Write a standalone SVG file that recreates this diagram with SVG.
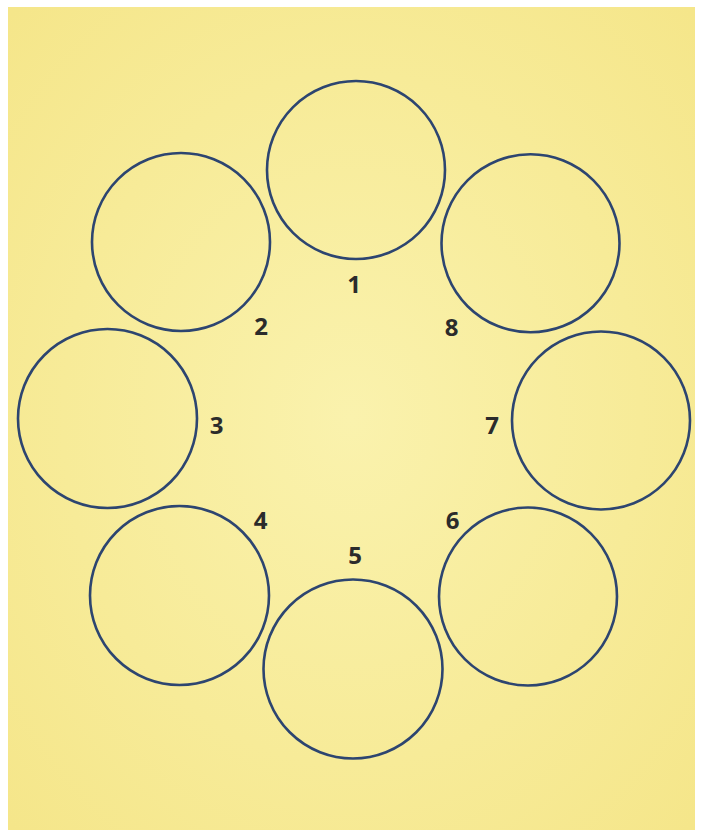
<svg xmlns="http://www.w3.org/2000/svg" width="703" height="830" viewBox="0 0 703 830">
  <defs>
    <radialGradient id="bg" cx="0.5" cy="0.5" r="0.7">
      <stop offset="0" stop-color="#faf2ad"/>
      <stop offset="0.6" stop-color="#f7eb98"/>
      <stop offset="1" stop-color="#f5e68a"/>
    </radialGradient>
    <style>
      .ring { fill: none; stroke: #2d4570; stroke-width: 2.6; }
      .num { font-family: "Open Sans", "Liberation Sans", sans-serif; font-size: 24px; font-weight: 700; fill: #2b2b2b; text-anchor: middle; }
    </style>
  </defs>
  <rect x="0" y="0" width="703" height="830" fill="#ffffff"/>
  <rect x="8" y="7" width="687" height="823" fill="url(#bg)"/>
  <g id="connectors"/>
  <g id="node1"><circle class="ring" cx="356" cy="170" r="89"/><text class="num" x="354" y="293">1</text></g>
  <g id="node2"><circle class="ring" cx="181" cy="242" r="89"/><text class="num" x="261" y="335">2</text></g>
  <g id="node3"><circle class="ring" cx="107.5" cy="418.5" r="89.5"/><text class="num" x="216.5" y="434">3</text></g>
  <g id="node4"><circle class="ring" cx="179.5" cy="595.5" r="89.5"/><text class="num" x="260.5" y="529">4</text></g>
  <g id="node5"><circle class="ring" cx="353" cy="669" r="89.5"/><text class="num" x="355" y="564">5</text></g>
  <g id="node6"><circle class="ring" cx="528" cy="596.5" r="89"/><text class="num" x="452.5" y="529">6</text></g>
  <g id="node7"><circle class="ring" cx="601" cy="420.5" r="89"/><text class="num" x="492" y="434">7</text></g>
  <g id="node8"><circle class="ring" cx="530.5" cy="243.3" r="89"/><text class="num" x="451.5" y="336">8</text></g>
</svg>
